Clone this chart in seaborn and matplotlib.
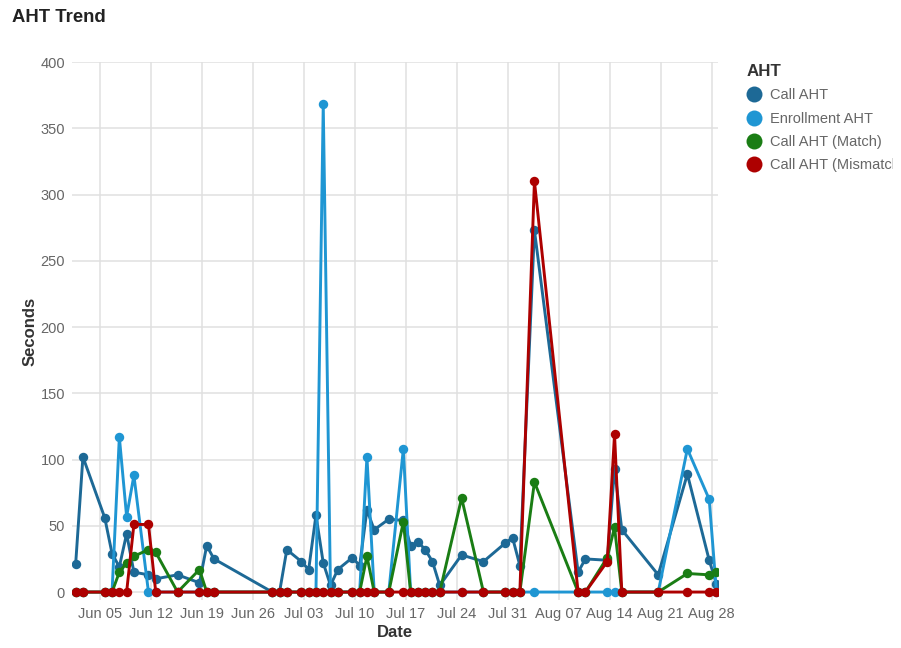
import pandas as pd
import numpy as np
import matplotlib
matplotlib.use("Agg")
import matplotlib.pyplot as plt
import matplotlib.dates as mdates
from matplotlib.lines import Line2D
from matplotlib.transforms import Bbox
import seaborn as sns

# Datas e valores
datas = ["2023-06-02", "2023-06-03", "2023-06-06", "2023-06-07", "2023-06-08", "2023-06-09",
         "2023-06-10", "2023-06-12", "2023-06-13", "2023-06-16", "2023-06-19", "2023-06-20",
         "2023-06-21", "2023-06-29", "2023-06-30", "2023-07-01", "2023-07-03", "2023-07-04",
         "2023-07-05", "2023-07-06", "2023-07-07", "2023-07-08", "2023-07-10", "2023-07-11",
         "2023-07-12", "2023-07-13", "2023-07-15", "2023-07-17", "2023-07-18", "2023-07-19",
         "2023-07-20", "2023-07-21", "2023-07-22", "2023-07-25", "2023-07-28", "2023-07-31",
         "2023-08-01", "2023-08-02", "2023-08-04", "2023-08-10", "2023-08-11", "2023-08-14",
         "2023-08-15", "2023-08-16", "2023-08-21", "2023-08-25", "2023-08-28", "2023-08-29"]

call_aht = [21, 102, 56, 29, 19, 44, 15, 13, 10, 13, 7, 35,
            25, 0, 0, 32, 23, 17, 58, 22, 5, 17, 26, 20,
            62, 47, 55, 54, 35, 38, 32, 23, 5, 28, 23, 37,
            41, 20, 273, 15, 25, 24, 93, 47, 13, 89, 24, 6]

enrollment_aht = [0, 0, 0, 0, 117, 57, 88, 0, 0, 0, 0, 0,
                  0, 0, 0, 0, 0, 0, 0, 368, 0, 0, 0, 0,
                  102, 0, 0, 108, 0, 0, 0, 0, 0, 0, 0, 0,
                  0, 0, 0, 0, 0, 0, 0, 0, 0, 108, 70, 0]

call_match = [0, 0, 0, 0, 15, 22, 27, 32, 30, 0, 17, 0,
              0, 0, 0, 0, 0, 0, 0, 0, 0, 0, 0, 0,
              27, 0, 0, 53, 0, 0, 0, 0, 0, 71, 0, 0,
              0, 0, 83, 0, 0, 26, 49, 0, 0, 14, 13, 15]

call_mismatch = [0, 0, 0, 0, 0, 0, 51, 51, 0, 0, 0, 0,
                 0, 0, 0, 0, 0, 0, 0, 0, 0, 0, 0, 0,
                 0, 0, 0, 0, 0, 0, 0, 0, 0, 0, 0, 0,
                 0, 0, 310, 0, 0, 23, 119, 0, 0, 0, 0, 0]

series = ["Call AHT", "Enrollment AHT", "Call AHT (Match)", "Call AHT (Mismatch)"]
cores = ["#1d6996", "#1f96d3", "#1a7d14", "#ad0000"]

# os pontos aparecem ~8h antes da meia-noite (fuso horário do painel original)
datas_dt = pd.to_datetime(datas) - pd.Timedelta(hours=8)

df = pd.DataFrame({
    "Date": datas_dt,
    "Call AHT": call_aht,
    "Enrollment AHT": enrollment_aht,
    "Call AHT (Match)": call_match,
    "Call AHT (Mismatch)": call_mismatch,
})
df_long = df.melt(id_vars="Date", var_name="AHT", value_name="Seconds")

sns.set_style("white")
plt.rcParams["font.family"] = ["Liberation Sans", "DejaVu Sans"]

fig = plt.figure(figsize=(9.01, 6.48), dpi=100)
ax = fig.add_axes([72 / 901, 1 - 600 / 648, (718 - 72) / 901, (600 - 62) / 648])

sns.lineplot(data=df_long, x="Date", y="Seconds", hue="AHT", hue_order=series,
             palette=cores, marker="o", markersize=6.8, markeredgewidth=0,
             linewidth=2.1, legend=False, ax=ax)

# Eixos
ax.set_ylim(-6, 400)
ax.set_yticks(np.arange(0, 401, 50))
ax.set_xlim(pd.Timestamp("2023-06-01 04:00"), pd.Timestamp("2023-08-28 21:00"))
ax.xaxis.set_major_locator(mdates.WeekdayLocator(byweekday=mdates.MO))
ax.xaxis.set_major_formatter(mdates.DateFormatter("%b %d"))
ax.grid(True, color="#e0e0e0", linewidth=1.1)
ax.set_axisbelow(True)
for s in ax.spines.values():
    s.set_visible(False)
ax.tick_params(axis="both", length=0, labelsize=10.5, labelcolor="#666666", pad=5)
ax.set_xlabel("Date", fontsize=12, fontweight="bold", color="#333333", labelpad=3)
ax.set_ylabel("Seconds", fontsize=12, fontweight="bold", color="#333333", labelpad=2)

fig.text(12 / 901, 1 - 17 / 648, "AHT Trend", fontsize=13.3, fontweight="bold",
         color="#222222", ha="left", va="center")

# Legenda (o último rótulo é cortado na borda, como no original)
handles = [Line2D([], [], linestyle="none", marker="o", markersize=11.5,
                  markerfacecolor=c, markeredgewidth=0) for c in cores]
leg = fig.legend(handles, series, title="AHT", loc="upper left",
                 bbox_to_anchor=(747 / 901, 1 - 64 / 648), frameon=False,
                 fontsize=10.5, labelcolor="#666666", borderaxespad=0, borderpad=0,
                 handlelength=1.0, handletextpad=0.55, labelspacing=0.64,
                 alignment="left", title_fontproperties={"weight": "bold", "size": 12.2})
leg.get_title().set_color("#333333")
clip = Bbox.from_extents(0, 0, 893, 648)
for t in leg.get_texts():
    t.set_clip_box(clip)
    t.set_clip_on(True)

fig.savefig("out.png", dpi=100)
